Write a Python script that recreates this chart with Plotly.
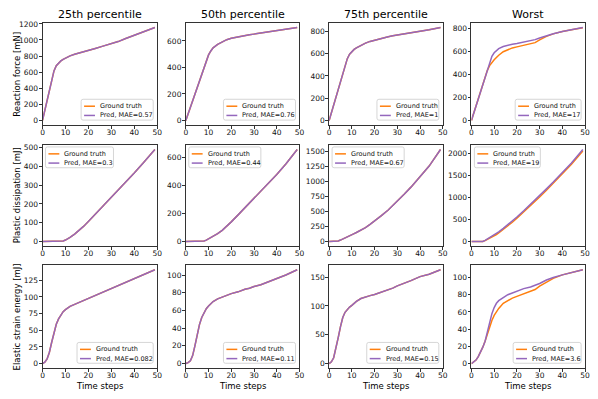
import plotly.graph_objects as go

W, H = 598, 399
FONT = "DejaVu Sans"
ORANGE = "#ff7f0e"
PURPLE = "#9467bd"
SPINE = "#333333"

T = [0, 1, 2, 3, 4, 5, 6, 7, 8, 9, 10, 11, 12, 14, 16, 18, 20, 23, 26, 28, 30, 33, 36, 40, 44, 49]

# Reaction force [mN]
rf_p25 = [0, 125, 250, 375, 500, 615, 680, 715, 740, 760, 777, 790, 803, 822, 840, 856, 872, 895, 920, 936, 953, 980, 1015, 1060, 1100, 1155]
rf_p50 = [0, 50, 100, 150, 200, 250, 300, 350, 400, 450, 495, 525, 548, 575, 595, 610, 620, 632, 641, 647, 652, 660, 667, 676, 687, 702]
rf_p75 = [0, 70, 140, 210, 280, 350, 420, 490, 555, 595, 620, 638, 652, 675, 695, 710, 722, 738, 752, 760, 768, 778, 789, 802, 815, 835]
rf_worst_true = [0, 62, 124, 186, 248, 310, 372, 434, 475, 505, 525, 545, 565, 595, 615, 628, 637, 650, 662, 674, 697, 728, 750, 771, 785, 803]
rf_worst_pred = [0, 62, 124, 186, 248, 310, 372, 434, 500, 555, 586, 608, 622, 640, 652, 660, 667, 679, 692, 700, 714, 735, 751, 771, 785, 805]

# Plastic dissipation [mJ]
pd_p25 = [0, 0, 0, 0, 0, 0, 0, 0, 1, 3, 8, 14, 22, 40, 60, 82, 107, 145, 185, 211, 237, 275, 315, 365, 420, 490]
pd_p50 = [0, 0, 0, 0, 0, 0, 0, 1, 4, 10, 19, 27, 36, 56, 80, 108, 140, 190, 240, 273, 306, 357, 409, 478, 552, 655]
pd_p75 = [0, 0, 0, 2, 10, 25, 45, 62, 80, 98, 115, 132, 150, 185, 230, 285, 340, 430, 525, 595, 670, 785, 905, 1075, 1255, 1530]
pd_worst_true = [0, 0, 0, 0, 0, 2, 20, 45, 75, 105, 130, 160, 195, 270, 350, 440, 530, 670, 815, 915, 1015, 1170, 1325, 1540, 1760, 2060]
pd_worst_pred = [0, 0, 0, 0, 0, 4, 28, 58, 92, 125, 155, 188, 222, 300, 383, 470, 560, 700, 845, 945, 1045, 1200, 1355, 1570, 1790, 2095]

# Elastic strain energy [mJ]
se_p25 = [0, 2, 7, 17, 32, 47, 59, 67, 73, 78, 81, 84, 86, 89, 92, 95, 98, 102, 107, 110, 113, 118, 122, 128, 134, 141]
se_p50 = [0, 1, 3, 9, 20, 33, 44, 52, 58, 62, 65, 68, 70, 73, 75, 77, 79, 81, 84, 85, 87, 89, 92, 96, 100, 106]
se_p75 = [0, 3, 10, 25, 45, 64, 80, 89, 94, 98, 101, 105, 108, 113, 116, 118, 120, 124, 128, 131, 135, 139, 144, 151, 155, 163]
se_worst_true = [0, 2, 4, 8, 13, 19, 26, 35, 43, 50, 56, 60, 64, 70, 73, 76, 78, 81, 84, 86, 90, 95, 99, 103, 106, 109]
se_worst_pred = [0, 2, 4, 8, 13, 19, 26, 36, 49, 58, 65, 70, 73, 77, 80, 82, 84, 87, 89, 91, 93, 97, 100, 103, 106, 109]

COL_TITLES = ["25th percentile", "50th percentile", "75th percentile", "Worst"]
ROW_LABELS = ["Reaction force [mN]", "Plastic dissipation [mJ]", "Elastic strain energy [mJ]"]
MAE = [["0.57", "0.76", "1", "17"],
       ["0.3", "0.44", "0.67", "19"],
       ["0.082", "0.11", "0.15", "3.6"]]
DTICK = [[200, 200, 200, 200],
         [100, 200, 250, 500],
         [25, 20, 50, 20]]

PANELS = [
    [(rf_p25, rf_p25), (rf_p50, rf_p50), (rf_p75, rf_p75), (rf_worst_true, rf_worst_pred)],
    [(pd_p25, pd_p25), (pd_p50, pd_p50), (pd_p75, pd_p75), (pd_worst_true, pd_worst_pred)],
    [(se_p25, se_p25), (se_p50, se_p50), (se_p75, se_p75), (se_worst_true, se_worst_pred)],
]

# axes boxes in pixels
COL_X = [(41, 157), (186, 301), (331, 446), (475, 590)]
ROW_Y = [(20, 123), (143, 245), (264, 368)]

# approximate DejaVu Sans advance widths (em)
CW = {"G": .775, "r": .411, "o": .612, "u": .634, "n": .634, "d": .635, " ": .318,
      "t": .392, "h": .634, "P": .603, "e": .615, ",": .318, "M": .863, "A": .684,
      "E": .632, "=": .838, ".": .318}
LEG_FS = 6.5


def text_w(s, fs):
    return sum(CW.get(ch, .636) for ch in s) * fs


def px(x, y):
    return x / W, 1 - y / H


def rounded_rect(x0, y0, x1, y1, r=2):
    def p(x, y):
        X, Y = px(x, y)
        return f"{X:.5f},{Y:.5f}"
    return (f"M{p(x0 + r, y0)} L{p(x1 - r, y0)} Q{p(x1, y0)} {p(x1, y0 + r)} "
            f"L{p(x1, y1 - r)} Q{p(x1, y1)} {p(x1 - r, y1)} L{p(x0 + r, y1)} "
            f"Q{p(x0, y1)} {p(x0, y1 - r)} L{p(x0, y0 + r)} Q{p(x0, y0)} {p(x0 + r, y0)} Z")


fig = go.Figure()
shapes = []
annotations = []

for r in range(3):
    for c in range(4):
        k = r * 4 + c + 1
        xa = "x" if k == 1 else f"x{k}"
        ya = "y" if k == 1 else f"y{k}"
        truth, pred = PANELS[r][c]
        fig.add_trace(go.Scatter(x=T, y=truth, mode="lines", xaxis=xa, yaxis=ya,
                                 line=dict(color=ORANGE, width=1.5), showlegend=False))
        fig.add_trace(go.Scatter(x=T, y=pred, mode="lines", xaxis=xa, yaxis=ya,
                                 line=dict(color=PURPLE, width=1.5), showlegend=False))

        x0, x1 = COL_X[c]
        y0, y1 = ROW_Y[r]
        lo = min(min(truth), min(pred))
        hi = max(max(truth), max(pred))
        span = hi - lo
        axis_common = dict(showgrid=False, zeroline=False, showline=True, mirror=True,
                           linecolor=SPINE, linewidth=0.8, ticks="outside", ticklen=3,
                           tickwidth=0.8, tickcolor=SPINE,
                           tickfont=dict(family=FONT, size=7.5, color="#111111"))
        fig.layout[xa.replace("x", "xaxis")] = dict(
            domain=[x0 / W, x1 / W], range=[0, 50], tick0=0, dtick=10,
            anchor=ya, ticklabelstandoff=-3, **axis_common)
        fig.layout[ya.replace("y", "yaxis")] = dict(
            domain=[1 - y1 / H, 1 - y0 / H], range=[lo - 0.05 * span, hi + 0.05 * span],
            tick0=0, dtick=DTICK[r][c], anchor=xa, ticklabelstandoff=-1, **axis_common)

        # matplotlib-style legend
        label2 = f"Pred, MAE={MAE[r][c]}"
        bw = max(text_w("Ground truth", LEG_FS), text_w(label2, LEG_FS)) + 20
        if r == 1:
            bx0, by0 = x0 + 3, y0 + 2
        else:
            bx0, by0 = x1 - 4 - bw, y1 - 26
        bx1, by1 = bx0 + bw, by0 + 21
        shapes.append(dict(type="path", xref="paper", yref="paper",
                           path=rounded_rect(bx0, by0, bx1, by1),
                           line=dict(color="#cccccc", width=0.8),
                           fillcolor="rgba(255,255,255,0.8)"))
        for i, (lab, col) in enumerate([("Ground truth", ORANGE), (label2, PURPLE)]):
            ly = by0 + 7 + 9.3 * i
            lx0, lyp = px(bx0 + 3, ly)
            lx1, _ = px(bx0 + 14, ly)
            shapes.append(dict(type="line", xref="paper", yref="paper",
                               x0=lx0, x1=lx1, y0=lyp, y1=lyp,
                               line=dict(color=col, width=1.5)))
            tx, _ = px(bx0 + 17, ly)
            annotations.append(dict(text=lab, xref="paper", yref="paper", x=tx, y=lyp,
                                    xanchor="left", yanchor="middle", showarrow=False,
                                    font=dict(family=FONT, size=LEG_FS, color="#111111")))

# column titles
for c, title in enumerate(COL_TITLES):
    x0, x1 = COL_X[c]
    tx, ty = px((x0 + x1) / 2, 12)
    annotations.append(dict(text=title, xref="paper", yref="paper", x=tx, y=ty,
                            xanchor="center", yanchor="middle", showarrow=False,
                            font=dict(family=FONT, size=11, color="#000000")))

# row labels
for r, lab in enumerate(ROW_LABELS):
    y0, y1 = ROW_Y[r]
    tx, ty = px(15, (y0 + y1) / 2)
    annotations.append(dict(text=lab, xref="paper", yref="paper", x=tx, y=ty,
                            xanchor="center", yanchor="middle", textangle=-90,
                            showarrow=False,
                            font=dict(family=FONT, size=8.5, color="#000000")))

# x labels on bottom row
for c in range(4):
    x0, x1 = COL_X[c]
    tx, ty = px((x0 + x1) / 2, 386)
    annotations.append(dict(text="Time steps", xref="paper", yref="paper", x=tx, y=ty,
                            xanchor="center", yanchor="middle", showarrow=False,
                            font=dict(family=FONT, size=8.5, color="#000000")))

fig.update_layout(
    width=W, height=H,
    margin=dict(l=0, r=0, t=0, b=0),
    paper_bgcolor="white", plot_bgcolor="white",
    font=dict(family=FONT),
    shapes=shapes, annotations=annotations,
    showlegend=False,
)

fig.write_html("out.html", config={"displayModeBar": False},
               post_script="document.body.style.margin='0';")
